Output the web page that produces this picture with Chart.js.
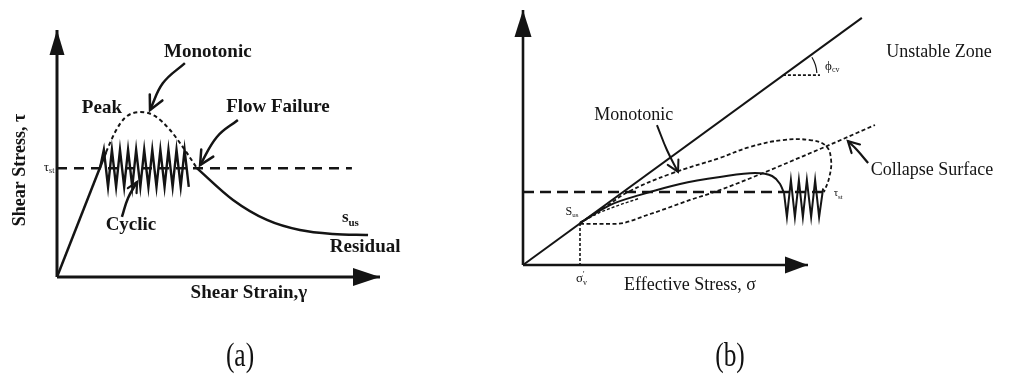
<!DOCTYPE html>
<html>
<head>
<meta charset="utf-8">
<script src="https://cdn.jsdelivr.net/npm/chart.js@4.4.0/dist/chart.umd.min.js"></script>
<style>
  html, body { margin: 0; padding: 0; background: #fff; }
  #wrap { position: relative; width: 1014px; height: 379px; overflow: hidden; }
  canvas { position: absolute; top: 0; }
  #chartA { left: 0; }
  #chartB { left: 480px; }
</style>
</head>
<body>
<div id="wrap">
  <canvas id="chartA" width="480" height="379"></canvas>
  <canvas id="chartB" width="534" height="379"></canvas>
</div>
<script>
// ── (a) shear stress vs shear strain (axis units 0..100) ──
const aAxisX = [0, 100];
const aAxisY = [0, 100];
const aTauSt = 44;
const aTauEnd = 91.3;
const aLoadX = [0, 15.2];
const aLoadY = [0, 50.6];
const aMonoX = [15.2, 18, 21, 25.7, 30.3, 35, 39.6, 43.3];
const aMonoY = [50.6, 58.7, 64.4, 66.8, 65.2, 59.5, 51.4, 44.1];
const aResX = [43.3, 54.5, 65, 75.2, 85.4, 96.3];
const aResY = [44.1, 31.2, 23.1, 19, 17.4, 17];
const aCycX = [13.3, 14.5, 15.8, 17.0, 18.3, 19.5, 20.8, 22.0, 23.3, 24.5, 25.8, 27.0,
               28.3, 29.5, 30.8, 32.0, 33.3, 34.5, 35.8, 37.0, 38.3, 39.5, 40.8];
const aCycY = [44, 51.5, 36.5, 51.5, 36.5, 51.5, 36.5, 51.5, 36.5, 51.5, 36.5, 51.5,
               36.5, 51.5, 36.5, 51.5, 36.5, 51.5, 36.5, 51.5, 36.5, 51.5, 36.5];
// pointer arrows
const aPtrMonoX = [39.6, 32.8, 28.8],  aPtrMonoY = [86.6, 78.5, 67.6];
const aPtrFlowX = [56, 49.5, 44.3],    aPtrFlowY = [63.6, 56.7, 45.3];
const aPtrCycX  = [20.1, 22, 24.8],    aPtrCycY  = [24.3, 32, 38.5];

// ── (b) shear stress vs effective stress ──
const bAxisX = [0, 100];
const bAxisY = [0, 100];
const bFricX = [0, 118.9];
const bFricY = [0, 96.9];
const bPhiX = [91.2, 104.2];
const bPhiY = [74.5, 74.5];
const bTauSt = 28.6;
const bTauEnd = 105.3;
const bSus = [20, 16.5];
const bMonoX = [20, 30.5, 41.1, 55.1, 69.1, 81.4, 87.4, 90.2, 91.6];
const bMonoY = [16.5, 23.5, 27.5, 31.8, 34.5, 36.1, 34.9, 31.8, 28.2];
const bCycX = [91.6, 92.6, 94.0, 95.4, 96.8, 98.2, 99.6, 101.1, 102.5, 103.9, 105.3];
const bCycY = [28.2, 18.8, 33.3, 18.8, 33.3, 18.8, 33.3, 18.8, 33.3, 18.8, 30];
const bLoopX = [20, 28.8, 36.8, 51.6, 69.1, 79.6, 91.2, 100.7, 106.3, 108.1, 107.4, 105.6];
const bLoopY = [16.5, 22.7, 28.6, 35.7, 42, 46.3, 49, 49, 46.7, 41.2, 34.1, 28.6];
const bCollX = [20, 32.3, 44.6, 58.6, 69.1, 104.2, 123.5];
const bCollY = [16.1, 16.1, 20, 25.5, 29.4, 45.5, 54.9];
// converging strands near S_us
const bHatchX = [20, 27, 34, 41];
const bHatchY = [16.5, 20.6, 23.6, 26.2];
const bPtrMonoX = [47, 50.5, 54.4],      bPtrMonoY = [54.9, 45.1, 36.5];
const bPtrCollX = [121.1, 117.2, 114],   bPtrCollY = [40, 45.1, 48.6];

const INK = '#141414';
const SERIF = '"Liberation Serif", "DejaVu Serif", serif';

function series(xs, ys, style) {
  return Object.assign({
    data: xs.map((x, i) => ({ x: x, y: ys[i] })),
    showLine: true,
    borderColor: INK,
    borderWidth: 2,
    pointRadius: 0,
    pointHoverRadius: 0,
    fill: false,
    clip: false,
    tension: 0
  }, style || {});
}

// arrow heads at the last point of a dataset
const arrowPlugin = {
  id: 'arrowHeads',
  afterDatasetsDraw(chart, args, opts) {
    const ctx = chart.ctx;
    (opts.heads || []).forEach(h => {
      const pts = chart.getDatasetMeta(h.ds).data;
      const a = pts[pts.length - 2], b = pts[pts.length - 1];
      const ang = Math.atan2(b.y - a.y, b.x - a.x);
      ctx.save();
      ctx.translate(b.x, b.y);
      ctx.rotate(ang);
      ctx.fillStyle = INK;
      ctx.strokeStyle = INK;
      ctx.beginPath();
      if (h.open) {
        ctx.lineWidth = h.lw;
        ctx.lineCap = 'round';
        ctx.moveTo(-h.len, -h.w);
        ctx.lineTo(0, 0);
        ctx.lineTo(-h.len, h.w);
        ctx.stroke();
      } else {
        ctx.moveTo(0, 0);
        ctx.lineTo(-h.len, -h.w);
        ctx.lineTo(-h.len, h.w);
        ctx.closePath();
        ctx.fill();
      }
      ctx.restore();
    });
    (opts.arcs || []).forEach(c => {
      const x = chart.scales.x.getPixelForValue(c.x), y = chart.scales.y.getPixelForValue(c.y);
      ctx.save();
      ctx.strokeStyle = INK;
      ctx.lineWidth = 1.2;
      ctx.beginPath();
      ctx.arc(x, y, c.r, c.a0, c.a1, true);
      ctx.stroke();
      ctx.restore();
    });
  }
};

// text labels with optional sub / superscripts
const textPlugin = {
  id: 'texts',
  afterDraw(chart, args, opts) {
    const ctx = chart.ctx;
    (opts.labels || []).forEach(l => {
      const x = chart.scales.x.getPixelForValue(l.x);
      const y = chart.scales.y.getPixelForValue(l.y);
      const weight = l.bold ? 'bold ' : '';
      const main = weight + l.size + 'px ' + SERIF;
      const small = weight + Math.round(l.size * 0.62) + 'px ' + SERIF;
      ctx.save();
      ctx.translate(x, y);
      if (l.rot) ctx.rotate(l.rot * Math.PI / 180);
      ctx.fillStyle = INK;
      ctx.textBaseline = 'middle';
      ctx.textAlign = 'left';
      ctx.font = main;
      const w = ctx.measureText(l.t).width;
      ctx.font = small;
      const ws = Math.max(l.sub ? ctx.measureText(l.sub).width : 0, l.sup ? ctx.measureText(l.sup).width : 0);
      const total = w + ws;
      let x0 = -total / 2;
      if (l.align === 'left') x0 = 0;
      if (l.align === 'right') x0 = -total;
      ctx.font = main;
      ctx.fillText(l.t, x0, 0);
      ctx.font = small;
      if (l.sub) ctx.fillText(l.sub, x0 + w, l.size * 0.32);
      if (l.sup) ctx.fillText(l.sup, x0 + w, -l.size * 0.3);
      ctx.restore();
    });
  }
};

// panel caption (a) / (b)
const captionPlugin = {
  id: 'caption',
  afterDraw(chart, args, opts) {
    const ctx = chart.ctx;
    ctx.save();
    ctx.fillStyle = '#111';
    ctx.font = '31px ' + SERIF;
    ctx.textAlign = 'center';
    ctx.textBaseline = 'middle';
    ctx.translate(opts.x, 357);
    ctx.scale(0.82, 1.12);
    ctx.fillText(opts.text, 0, 0);
    ctx.restore();
  }
};

function baseOptions(padding, xMax, plugins) {
  return {
    responsive: false,
    animation: false,
    devicePixelRatio: 1,
    events: [],
    layout: { padding: padding },
    scales: {
      x: { type: 'linear', min: 0, max: xMax, display: false },
      y: { type: 'linear', min: 0, max: 100, display: false }
    },
    plugins: Object.assign({ legend: { display: false }, tooltip: { enabled: false } }, plugins)
  };
}

// ── chart (a) ──
const aDatasets = [
  series(aAxisX, [0, 0], { borderWidth: 3 }),                                 // 0 x axis
  series([0, 0], aAxisY, { borderWidth: 3 }),                                 // 1 y axis
  series([0, aTauEnd], [aTauSt, aTauSt], { borderWidth: 2.5, borderDash: [10, 7] }),
  series(aLoadX, aLoadY, { borderWidth: 2.5 }),
  series(aMonoX, aMonoY, { borderWidth: 2, borderDash: [4, 3], cubicInterpolationMode: 'monotone' }),
  series(aResX, aResY, { borderWidth: 2.5, cubicInterpolationMode: 'monotone' }),
  series(aCycX, aCycY, { borderWidth: 2.4 }),
  series(aPtrMonoX, aPtrMonoY, { borderWidth: 2.5, tension: 0.4 }),          // 7
  series(aPtrFlowX, aPtrFlowY, { borderWidth: 2.5, tension: 0.4 }),          // 8
  series(aPtrCycX, aPtrCycY, { borderWidth: 2.5, tension: 0.4 })             // 9
];

const aLabels = [
  { t: 'Monotonic', x: 46.7, y: 91.1, size: 19, bold: true },
  { t: 'Peak', x: 13.9, y: 68.4, size: 19, bold: true },
  { t: 'Flow Failure', x: 68.4, y: 68.8, size: 19, bold: true },
  { t: 'Cyclic', x: 22.9, y: 21, size: 19, bold: true },
  { t: 's', sub: 'us', x: 88.2, y: 24.2, size: 17, bold: true, align: 'left' },
  { t: 'Residual', x: 95.4, y: 12.1, size: 19, bold: true },
  { t: 'Shear Strain,γ', x: 59.4, y: -6.6, size: 19, bold: true },
  { t: 'Shear Stress, τ', x: -11.5, y: 43.3, size: 18, bold: true, rot: -90 },
  { t: 'τ', sub: 'st', x: -0.8, y: 44.5, size: 13, align: 'right' }
];

new Chart(document.getElementById('chartA'), {
  type: 'scatter',
  data: { datasets: aDatasets },
  options: baseOptions({ left: 57, top: 30, right: 100, bottom: 102 }, 100, {
    arrowHeads: {
      heads: [
        { ds: 0, len: 27, w: 9 },
        { ds: 1, len: 25, w: 7.5 },
        { ds: 7, open: true, len: 14, w: 7, lw: 2.5 },
        { ds: 8, open: true, len: 14, w: 7, lw: 2.5 },
        { ds: 9, open: true, len: 10, w: 5, lw: 2.2 }
      ]
    },
    texts: { labels: aLabels },
    caption: { text: '(a)', x: 240 }
  }),
  plugins: [arrowPlugin, textPlugin, captionPlugin]
});

// ── chart (b) ── x runs past the arrow so the long strokes are not trimmed
const bDatasets = [
  series(bAxisX, [0, 0], { borderWidth: 2.6 }),                               // 0 x axis
  series([0, 0], bAxisY, { borderWidth: 2.6 }),                               // 1 y axis
  series(bFricX, bFricY, { borderWidth: 2 }),
  series(bPhiX, bPhiY, { borderWidth: 1.8, borderDash: [3, 2] }),
  series([0, bTauEnd], [bTauSt, bTauSt], { borderWidth: 2.6, borderDash: [11, 6] }),
  series([bSus[0], bSus[0]], [bSus[1], 0], { borderWidth: 1.6, borderDash: [3, 2] }),
  series(bMonoX, bMonoY, { borderWidth: 2, cubicInterpolationMode: 'monotone' }),
  series(bCycX, bCycY, { borderWidth: 2 }),
  series(bLoopX, bLoopY, { borderWidth: 1.8, borderDash: [4, 2.5], tension: 0.4 }),
  series(bCollX, bCollY, { borderWidth: 1.8, borderDash: [4, 2.5], cubicInterpolationMode: 'monotone' }),
  series(bPtrMonoX, bPtrMonoY, { borderWidth: 2, tension: 0.4 }),            // 10
  series(bPtrCollX, bPtrCollY, { borderWidth: 2.2, tension: 0.4 }),          // 11
  series(bHatchX, bHatchY, { borderWidth: 1.4, borderDash: [3, 2], cubicInterpolationMode: 'monotone' })
];

const bLabels = [
  { t: 'Unstable Zone', x: 146, y: 83.5, size: 18 },
  { t: 'Monotonic', x: 38.9, y: 58.8, size: 18 },
  { t: 'Collapse Surface', x: 143.5, y: 37.3, size: 18 },
  { t: 'Effective Stress, σ', x: 58.6, y: -7.8, size: 18 },
  { t: 'ϕ', sub: 'cv', x: 106, y: 78, size: 13, align: 'left' },
  { t: 'S', sub: 'us', x: 17.2, y: 21, size: 12 },
  { t: 'σ', sup: '\'', sub: 'v', x: 20.5, y: -5.4, size: 13 },
  { t: 'τ', sub: 'st', x: 109, y: 28, size: 11, align: 'left' }
];

new Chart(document.getElementById('chartB'), {
  type: 'scatter',
  data: { datasets: bDatasets },
  options: baseOptions({ left: 43, top: 10, right: 120.5, bottom: 114 }, 130, {
    arrowHeads: {
      heads: [
        { ds: 0, len: 23, w: 8.5 },
        { ds: 1, len: 27, w: 8.5 },
        { ds: 10, open: true, len: 11, w: 6, lw: 2 },
        { ds: 11, open: true, len: 11, w: 6, lw: 2.2 }
      ],
      arcs: [{ x: 91.2, y: 74.5, r: 34, a0: -0.06, a1: -0.55 }]
    },
    texts: { labels: bLabels },
    caption: { text: '(b)', x: 250 }
  }),
  plugins: [arrowPlugin, textPlugin, captionPlugin]
});
</script>
</body>
</html>
